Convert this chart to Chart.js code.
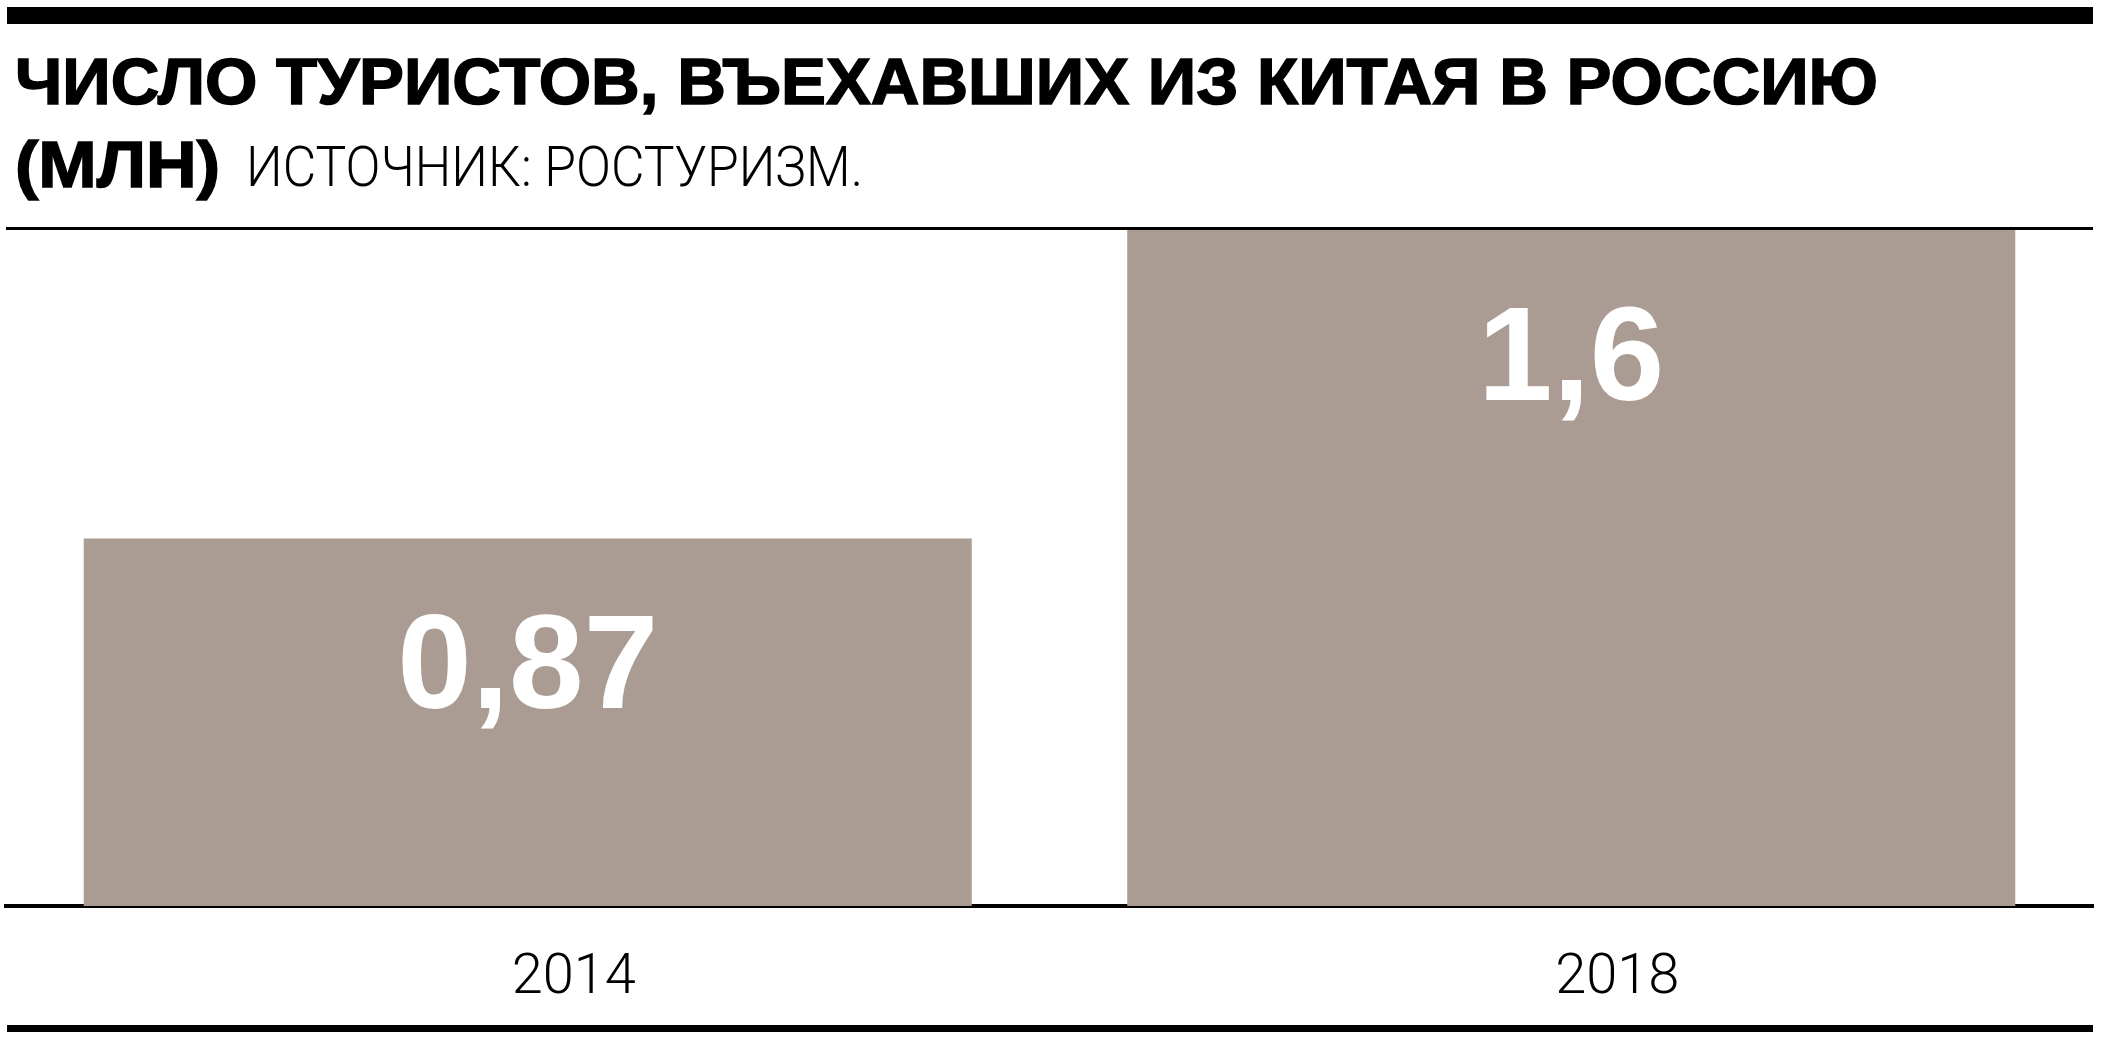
<!DOCTYPE html>
<html lang="ru">
<head>
<meta charset="utf-8">
<title>Число туристов, въехавших из Китая в Россию</title>
<script src="https://cdn.jsdelivr.net/npm/chart.js@4.4.1/dist/chart.umd.min.js"></script>
<style>
  html, body { margin: 0; padding: 0; background: #fff; }
  body { width: 2106px; height: 1043px; position: relative; overflow: hidden; }
  .rule { position: absolute; background: #000; }
  .txt { position: absolute; white-space: nowrap; line-height: 1; transform-origin: 0 0; color: #000; }
  .bold { font-family: "Liberation Sans", Arial, sans-serif; font-weight: 700; font-size: 65px; -webkit-text-stroke: 1.5px #000; }
  .light { font-family: Roboto, "Liberation Sans", sans-serif; font-weight: 300; font-size: 56px; }
  #wrap { position: absolute; left: 0; top: 0; width: 2106px; height: 1043px; }
</style>
</head>
<body>
<div id="wrap"><canvas id="chart"></canvas></div>

<div class="rule" style="left:7px;top:7px;width:2086px;height:17px"></div>
<div class="txt bold" data-left="15" data-base="104" data-right="1878">ЧИСЛО ТУРИСТОВ, ВЪЕХАВШИХ ИЗ КИТАЯ В РОССИЮ</div>
<div class="txt bold" data-left="15" data-base="187" data-right="220">(МЛН)</div>
<div class="txt light" data-left="246" data-base="186" data-right="863">ИСТОЧНИК: РОСТУРИЗМ.</div>
<div class="rule" style="left:6px;top:227px;width:2087px;height:3px"></div>
<div class="rule" style="left:7px;top:1025px;width:2086px;height:7px"></div>

<script>
// data
const years = ['2014', '2018'];
const tourists = [0.87, 1.6];   // млн
const yMax = 1.6;

const barColor = '#aa9c93';

// put each title piece on its baseline and squeeze it to the width in the picture
document.querySelectorAll('.txt').forEach(el => {
  const probe = document.createElement('span');
  probe.style.cssText = 'display:inline-block;width:0;height:0;vertical-align:baseline';
  el.appendChild(probe);
  const left = +el.dataset.left, base = +el.dataset.base, right = +el.dataset.right;
  el.style.left = left + 'px';
  el.style.top = '0px';
  const baseOff = probe.getBoundingClientRect().top - el.getBoundingClientRect().top;
  el.style.top = (base - baseOff) + 'px';
  const w = el.getBoundingClientRect().width;
  el.style.transform = 'scaleX(' + ((right - left) / w) + ')';
});

// white numbers inside the bars
const valueLabels = {
  id: 'valueLabels',
  afterDatasetsDraw(chart) {
    const ctx = chart.ctx;
    const meta = chart.getDatasetMeta(0);
    ctx.save();
    ctx.fillStyle = '#fff';
    ctx.font = 'bold 134px "Liberation Sans", Arial, sans-serif';
    ctx.textAlign = 'center';
    ctx.textBaseline = 'alphabetic';
    meta.data.forEach((bar, i) => {
      const txt = String(tourists[i]).replace('.', ',');
      ctx.fillText(txt, bar.x, bar.y + 170);
    });
    ctx.restore();
  }
};

new Chart(document.getElementById('chart'), {
  type: 'bar',
  data: {
    labels: years,
    datasets: [{
      data: tourists,
      backgroundColor: barColor,
      borderWidth: 0,
      barPercentage: 0.851,
      categoryPercentage: 1.0
    }]
  },
  options: {
    responsive: true,
    maintainAspectRatio: false,
    animation: false,
    devicePixelRatio: 1,
    layout: { padding: { top: 230, left: 6, right: 13, bottom: 27 } },
    plugins: {
      legend: { display: false },
      tooltip: { enabled: false },
      title: { display: false }
    },
    scales: {
      x: {
        offset: true,
        grid: { display: false, drawTicks: false },
        border: { display: true, color: '#000', width: 4 },
        ticks: {
          color: '#000',
          font: { family: 'Roboto', weight: 300, size: 56 },
          padding: 39,
          labelOffset: 46,
          maxRotation: 0
        },
        afterFit(scale) { scale.height = 110; }
      },
      y: {
        display: false,
        min: 0,
        max: yMax
      }
    }
  },
  plugins: [valueLabels]
});
</script>
</body>
</html>
